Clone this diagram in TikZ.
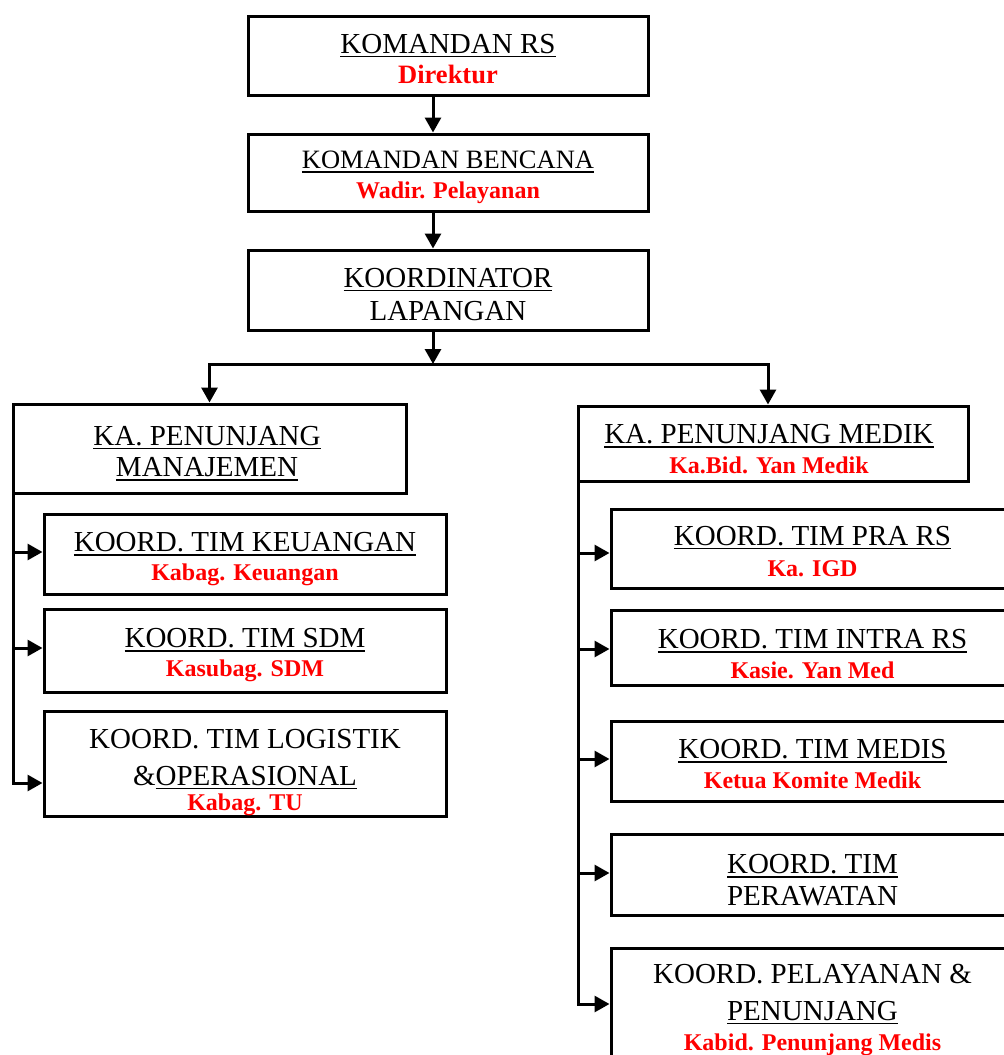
\documentclass[tikz,border=0pt]{standalone}
\usepackage{fontspec}
\setmainfont{Liberation Serif}
\usetikzlibrary{arrows.meta}
\definecolor{redtxt}{RGB}{255,0,0}
\newsavebox\ulbox
\newcommand\uln[1]{\sbox\ulbox{#1}\rlap{\rule[-4.3pt]{\wd\ulbox}{1.7pt}}\usebox\ulbox}
\tikzset{
  box/.style={draw, line width=3pt, inner sep=0pt},
  conn/.style={line width=3pt},
  arr/.style={conn, -{Triangle[length=15pt,width=16pt]}},
  blk/.style={anchor=base, inner sep=0pt, font=\fontsize{29}{30}\selectfont},
  blks/.style={anchor=base, inner sep=0pt, font=\fontsize{26.5}{28}\selectfont},
  sub/.style={anchor=base, inner sep=0pt, text=redtxt, font=\fontsize{24}{26}\selectfont\bfseries},
  subl/.style={sub, font=\fontsize{26.5}{28}\selectfont\bfseries},
}
\begin{document}
\begin{tikzpicture}[x=1pt,y=-1pt]
\useasboundingbox (0,0) rectangle (1004,1055);
\clip (0,0) rectangle (1004,1055);
% boxes
\node[box, minimum width=400pt, minimum height=79pt] (b1) at (448,55.5) {};
\node[box, minimum width=400pt, minimum height=77pt] (b2) at (448,172.5) {};
\node[box, minimum width=400pt, minimum height=80pt] (b3) at (448,290) {};
\node[box, minimum width=393pt, minimum height=89pt] (pm) at (209.5,448.5) {};
\node[box, minimum width=390pt, minimum height=75pt] (pmed) at (773,443.5) {};
\node[box, minimum width=402pt, minimum height=80pt] (k1) at (245,554) {};
\node[box, minimum width=402pt, minimum height=83pt] (k2) at (245,650.5) {};
\node[box, minimum width=402pt, minimum height=105pt] (k3) at (245,763.5) {};
\node[box, minimum width=403pt, minimum height=79pt] (r1) at (812.5,548.5) {};
\node[box, minimum width=403pt, minimum height=75pt] (r2) at (812.5,647.5) {};
\node[box, minimum width=403pt, minimum height=80pt] (r3) at (812.5,761) {};
\node[box, minimum width=403pt, minimum height=81pt] (r4) at (812.5,874.5) {};
\node[box, minimum width=403pt, minimum height=132pt] (r5) at (812.5,1014) {};
% texts
\node[blk] (t1a) at (448,53) {\uln{KOMANDAN RS}};
\node[subl] (t1b) at (448,83) {Direktur};
\node[blks] (t2a) at (448,168.3) {\uln{KOMANDAN BENCANA}};
\node[sub] (t2b) at (448,198.3) {Wadir. Pelayanan};
\node[blk] (t3a) at (448,287) {\uln{KOORDINATOR}};
\node[blk] (t3b) at (448,320) {LAPANGAN};
\node[blk] (tpa) at (207,445) {\uln{KA. PENUNJANG}};
\node[blk] (tpb) at (207,476.7) {\uln{MANAJEMEN}};
\node[blk] (tma) at (769,443.3) {\uln{KA. PENUNJANG MEDIK}};
\node[sub] (tmb) at (769,473.3) {Ka.Bid. Yan Medik};
\node[blk] (tk1a) at (245,551.7) {\uln{KOORD. TIM KEUANGAN}};
\node[sub] (tk1b) at (245,580.7) {Kabag. Keuangan};
\node[blk] (tk2a) at (245,647.7) {\uln{KOORD. TIM SDM}};
\node[sub] (tk2b) at (245,676) {Kasubag. SDM};
\node[blk] (tk3a) at (245,748.3) {KOORD. TIM LOGISTIK};
\node[blk] (tk3b) at (245,785) {\&\uln{OPERASIONAL}};
\node[sub] (tk3c) at (245,810) {Kabag. TU};
\node[blk] (tr1a) at (812.5,545) {\uln{KOORD. TIM PRA RS}};
\node[sub] (tr1b) at (812.5,576.7) {Ka. IGD};
\node[blk] (tr2a) at (812.5,648.3) {\uln{KOORD. TIM INTRA RS}};
\node[sub] (tr2b) at (812.5,678.3) {Kasie. Yan Med};
\node[blk] (tr3a) at (812.5,758.3) {\uln{KOORD. TIM MEDIS}};
\node[sub] (tr3b) at (812.5,788.3) {Ketua Komite Medik};
\node[blk] (tr4a) at (812.5,873.3) {\uln{KOORD. TIM}};
\node[blk] (tr4b) at (812.5,905) {PERAWATAN};
\node[blk] (tr5a) at (812.5,983.3) {KOORD. PELAYANAN \&};
\node[blk] (tr5b) at (812.5,1020) {\uln{PENUNJANG}};
\node[sub] (tr5c) at (812.5,1050) {Kabid. Penunjang Medis};
% connectors
\draw[arr] ([xshift=-15pt]b1.south) -- ([xshift=-15pt]b2.north);
\draw[arr] ([xshift=-15pt]b2.south) -- ([xshift=-15pt]b3.north);
\coordinate (hub) at (433,364);
\draw[arr] ([xshift=-15pt]b3.south) -- (hub);
\draw[arr] (hub) -| (pm.north);
\draw[arr] (hub) -| ([xshift=-5pt]pmed.north);
\coordinate (L1) at (13,552);
\coordinate (L2) at (13,648);
\coordinate (L3) at (13,783);
\draw[arr] (pm.south -| L1) -- (L3) -- (L3 -| k3.west);
\draw[arr] (L1) -- (L1 -| k1.west);
\draw[arr] (L2) -- (L2 -| k2.west);
\coordinate (R1) at (578,553);
\coordinate (R2) at (578,649);
\coordinate (R3) at (578,759);
\coordinate (R4) at (578,873);
\coordinate (R5) at (578,1004);
\draw[arr] (pmed.south -| R1) -- (R5) -- (R5 -| r5.west);
\draw[arr] (R1) -- (R1 -| r1.west);
\draw[arr] (R2) -- (R2 -| r2.west);
\draw[arr] (R3) -- (R3 -| r3.west);
\draw[arr] (R4) -- (R4 -| r4.west);
\end{tikzpicture}
\end{document}
